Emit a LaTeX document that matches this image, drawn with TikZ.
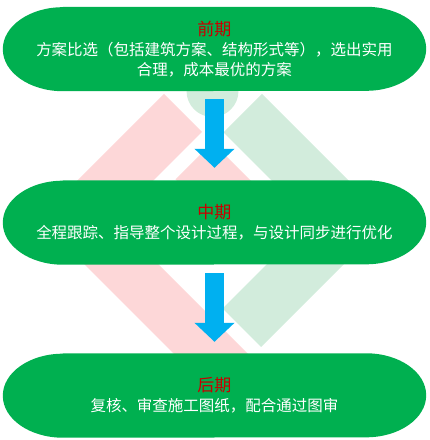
\documentclass[tikz,border=0pt]{standalone}
\usepackage{fontspec}
\setmainfont{Noto Sans CJK SC}
\usetikzlibrary{arrows.meta,backgrounds}
\definecolor{phasegreen}{HTML}{00B050}
\definecolor{titlered}{HTML}{C80000}
\definecolor{arrowblue}{HTML}{00B0F0}
\definecolor{bandpink}{HTML}{FDD7D8}
\definecolor{bandgreen}{HTML}{D2ECDC}
\newcommand\phtitle[1]{{\fontsize{17}{20}\selectfont\color{titlered}#1}}
% #1 node name, #2 vertical offset of the shape relative to the text node
\newcommand\stadiumfill[2]{%
  \fill[phasegreen,yshift=#2] ([xshift=60pt]#1.north west) -- ([xshift=-60pt]#1.north east)
    arc[start angle=90,end angle=-90,x radius=60pt,y radius=42pt]
    -- ([xshift=60pt]#1.south west)
    arc[start angle=270,end angle=90,x radius=60pt,y radius=42pt] -- cycle;}
\begin{document}
\begin{tikzpicture}[x=1pt,y=1pt,
  phase/.style={minimum width=423pt,minimum height=84pt,inner sep=0pt,
    text=white,align=center,font=\fontsize{15.5}{20}\selectfont},
  blockarrow/.style={draw=arrowblue,line width=19pt,
    -{Triangle[length=19pt,width=39pt,fill=arrowblue]}},
  pinkband/.style={fill=bandpink},
  greenband/.style={fill=bandgreen}]
\useasboundingbox (0,0) rectangle (430,440);

\node[phase] (top) at (214.5,391) {\phtitle{前期}\\方案比选（包括建筑方案、结构形式等），选出实用\\合理，成本最优的方案};
\node[phase] (mid) at (214.5,217.5) {\phtitle{中期}\\全程跟踪、指导整个设计过程，与设计同步进行优化};
\node[phase] (bot) at (214.5,44.5) {\phtitle{后期}\\复核、审查施工图纸，配合通过图审};

\begin{scope}[on background layer]
  % decorative bands
  \fill[pinkband] (164,346) -- (39,221) -- (220,40) -- (294,40) -- (114,220) -- (202,308) -- cycle;
  \fill[pinkband] (212.5,297.5) -- (175.5,260.5) -- (201,235) -- (275,235) -- cycle;
  \fill[greenband] (262,346) -- (388,220) -- (261,93) -- (222.5,131.5) -- (311,220) -- (223.5,307.5) -- cycle;
  \fill[greenband] (212.5,349) circle[radius=26];
  % phase shapes
  \stadiumfill{top}{3pt}
  \stadiumfill{mid}{2pt}
  \stadiumfill{bot}{2pt}
\end{scope}

\draw[blockarrow] ([yshift=-8pt]top.south) -- ([yshift=12.5pt]mid.north);
\draw[blockarrow] ([yshift=-8.5pt]mid.south) -- ([yshift=11.5pt]bot.north);
\end{tikzpicture}
\end{document}
